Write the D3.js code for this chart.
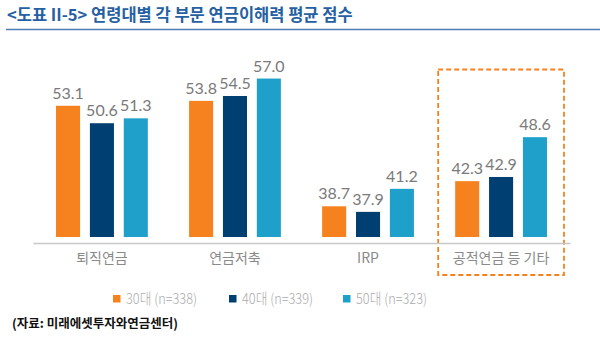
<!DOCTYPE html>
<html>
<head>
<meta charset="utf-8">
<script src="https://cdn.jsdelivr.net/npm/d3@7"></script>
<style>
  body { margin: 0; background: #fff; }
  svg { display: block; }
</style>
</head>
<body>
<div id="chart"></div>
<script>
// data
const categories = ['퇴직연금', '연금저축', 'IRP', '공적연금 등 기타'];
const series = ['30대 (n=338)', '40대 (n=339)', '50대 (n=323)'];
const age30 = [53.1, 53.8, 38.7, 42.3];
const age40 = [50.6, 54.5, 37.9, 42.9];
const age50 = [51.3, 57.0, 41.2, 48.6];
const colors = ['#F5821F', '#003F72', '#1FA0CB'];

const values = [age30, age40, age50];
const kr = '"Noto Sans CJK KR", "Noto Sans", sans-serif';

const svg = d3.select('#chart')
    .append('svg')
    .attr('width', 600)
    .attr('height', 345);

// title + rule under it
svg.append('text')
    .attr('x', 7)
    .attr('y', 21)
    .attr('fill', '#2560a3')
    .style('font-family', kr)
    .style('font-weight', 'bold')
    .style('font-size', '16.5px')
    .text('<도표 II-5> 연령대별 각 부문 연금이해력 평균 점수');

svg.append('line')
    .attr('x1', 6).attr('x2', 600)
    .attr('y1', 29.5).attr('y2', 29.5)
    .attr('stroke', '#4f7db6')
    .attr('stroke-width', 1.5);

// scales
const x0 = d3.scaleBand()
    .domain(categories)
    .range([33, 570])
    .paddingInner(0.31)
    .paddingOuter(0.173);

const x1 = d3.scaleBand()
    .domain(series)
    .range([0, x0.bandwidth()])
    .paddingInner(0.29);

const y = d3.scaleLinear()
    .domain([34.3, 60])
    .range([237, 57.6]);

// dashed highlight box round the last group
const last = categories[categories.length - 1];
svg.append('rect')
    .attr('x', x0(last) - 17)
    .attr('y', 69.5)
    .attr('width', x0.bandwidth() + 34)
    .attr('height', 205.5)
    .attr('fill', 'none')
    .attr('stroke', '#F5821F')
    .attr('stroke-width', 1.8)
    .attr('stroke-dasharray', '5,3');

// bars
const groups = svg.selectAll('g.group')
    .data(categories)
    .enter()
    .append('g')
    .attr('class', 'group')
    .attr('transform', d => `translate(${x0(d)},0)`);

groups.selectAll('rect')
    .data((d, i) => series.map((s, j) => ({ s, v: values[j][i], c: colors[j] })))
    .enter()
    .append('rect')
    .attr('x', d => x1(d.s))
    .attr('y', d => y(d.v))
    .attr('width', x1.bandwidth())
    .attr('height', d => y.range()[0] - y(d.v))
    .style('fill', d => d.c);

groups.selectAll('text')
    .data((d, i) => series.map((s, j) => ({ s, v: values[j][i] })))
    .enter()
    .append('text')
    .attr('x', d => x1(d.s) + x1.bandwidth() / 2)
    .attr('y', d => y(d.v) - 7)
    .attr('text-anchor', 'middle')
    .attr('fill', '#7a7a7a')
    .style('font-family', 'Lato, sans-serif')
    .style('font-size', '16px')
    .text(d => d.v.toFixed(1));

// category axis
const xAxisGroup = svg.append('g')
    .attr('transform', 'translate(0, 243)')
    .call(d3.axisBottom(x0).tickSize(0).tickPadding(10));

xAxisGroup.select('.domain')
    .attr('stroke', '#c8c8c8')
    .attr('stroke-width', 1.5);

xAxisGroup.selectAll('text')
    .attr('fill', '#8a8a8a')
    .style('font-family', kr)
    .style('font-size', '14px');

// legend
const legendX = [113, 229, 343];
const legend = svg.selectAll('g.legend')
    .data(series)
    .enter()
    .append('g')
    .attr('class', 'legend')
    .attr('transform', (d, i) => `translate(${legendX[i]}, 295)`);

legend.append('rect')
    .attr('width', 7.5)
    .attr('height', 7.5)
    .style('fill', (d, i) => colors[i]);

legend.append('text')
    .attr('x', 13)
    .attr('y', 4)
    .attr('dy', '0.35em')
    .attr('fill', '#ababab')
    .attr('textLength', 71)
    .attr('lengthAdjust', 'spacingAndGlyphs')
    .style('font-family', kr)
    .style('font-size', '14.5px')
    .style('font-weight', '300')
    .text(d => d);

// source note
svg.append('text')
    .attr('x', 12)
    .attr('y', 328)
    .attr('fill', '#111')
    .style('font-family', kr)
    .style('font-weight', 'bold')
    .style('font-size', '12.5px')
    .text('(자료: 미래에셋투자와연금센터)');
</script>
</body>
</html>
